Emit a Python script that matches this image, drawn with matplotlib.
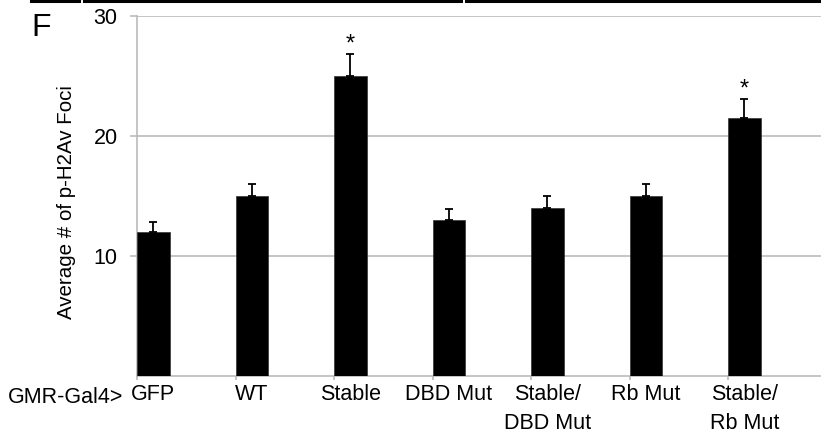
import numpy as np
import matplotlib
matplotlib.use("Agg")
import matplotlib.pyplot as plt
from matplotlib.lines import Line2D
import matplotlib.transforms as mtransforms

plt.rcParams['font.family'] = ['Liberation Sans', 'DejaVu Sans']

labels = ["GFP", "WT", "Stable", "DBD Mut", "Stable/\nDBD Mut", "Rb Mut", "Stable/\nRb Mut"]
means = [12.0, 15.0, 25.0, 13.0, 14.0, 15.0, 21.5]
errs = [0.8, 1.0, 1.8, 0.95, 1.0, 1.0, 1.6]
signif = [False, False, True, False, False, False, True]

W, H = 821, 436
fig = plt.figure(figsize=(W / 100, H / 100), dpi=100)
ax = fig.add_axes([137 / W, 60 / H, (W - 137) / W, 360 / H])

x = np.arange(len(labels))
bw = 0.33
ax.bar(x, means, width=bw, align='edge', color='black', edgecolor='#333333', linewidth=0.5, zorder=3)
ax.errorbar(x + bw / 2, means, yerr=[np.zeros(len(errs)), errs], fmt='none',
            ecolor='black', elinewidth=1.3, capsize=2.6, capthick=1.3, zorder=4)

# significance stars
for i in range(len(labels)):
    if signif[i]:
        ax.annotate('*', xy=(x[i] + bw / 2, means[i] + errs[i]), xytext=(0, -1),
                    textcoords='offset points', ha='center', va='bottom', fontsize=17)

ax.set_xlim(0, 684 / 98.5)
ax.set_ylim(0, 30)
ax.set_yticks([10, 20, 30])
ax.set_xticks(x)
ax.set_xticklabels([])
ax.yaxis.grid(True, color='#b5b5b5', linewidth=1.1, zorder=0)
ax.tick_params(axis='y', length=5, color='#b5b5b5', width=1.1, pad=9, labelsize=15.5)
ax.tick_params(axis='x', length=3, color='#b5b5b5', width=1.1)
for s in ['top', 'right']:
    ax.spines[s].set_visible(False)
for s in ['left', 'bottom']:
    ax.spines[s].set_color('#b5b5b5')
    ax.spines[s].set_linewidth(1.1)

trans = mtransforms.blended_transform_factory(ax.transData, ax.transAxes)
for i, lab in enumerate(labels):
    ax.annotate(lab, xy=(x[i] + bw / 2, 0), xycoords=trans, xytext=(0, -6),
                textcoords='offset points', ha='center', va='top',
                fontsize=15.5, linespacing=1.45)
fig.text(8 / W, 1 - 403 / H, "GMR-Gal4>", ha='left', va='baseline', fontsize=15.5)

fig.text(66 / W, 1 - 202 / H, "Average # of p-H2Av Foci", rotation=90,
         ha='center', va='center', fontsize=14.8)
fig.text(31 / W, 1 - 36 / H, "F", ha='left', va='baseline', fontsize=23)

# cropped bars from the panel above
for x0, x1 in [(31, 79), (84, 461), (466, 821)]:
    fig.add_artist(Line2D([x0 / W, x1 / W], [1 - 1 / H, 1 - 1 / H],
                          transform=fig.transFigure, color='black', linewidth=2.2))

fig.savefig("out.png", dpi=100)
